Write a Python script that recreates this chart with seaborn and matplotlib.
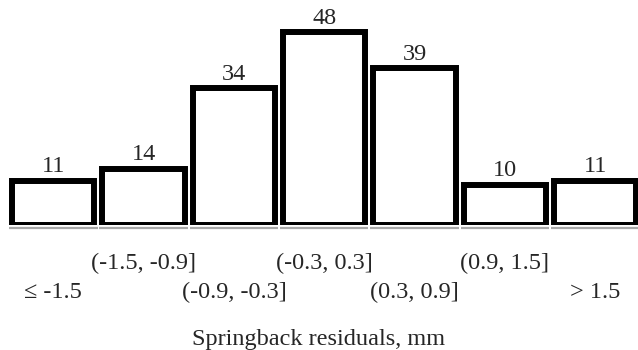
import matplotlib
matplotlib.use("Agg")
import matplotlib.pyplot as plt
import matplotlib.transforms as mtransforms
import seaborn as sns
import pandas as pd

categories = ["≤ -1.5", "(-1.5, -0.9]", "(-0.9, -0.3]", "(-0.3, 0.3]",
              "(0.3, 0.9]", "(0.9, 1.5]", "> 1.5"]
counts = [11, 14, 34, 48, 39, 10, 11]
xlabel = "Springback residuals, mm"

sns.set_theme(style="white")
plt.rcParams['font.family'] = ['Liberation Serif', 'DejaVu Serif']

FS = 17.5

df = pd.DataFrame({"bin": categories, "count": counts})

fig = plt.figure(figsize=(6.38, 3.5), dpi=100)
ax = fig.add_axes([0.0, 0.357, 1.0, 0.643])

sns.barplot(data=df, x="bin", y="count", ax=ax, color="white",
            edgecolor="black", linewidth=4.3, width=0.91, saturation=1)

ax.set_xlim(-0.59, 6.475)
ax.set_ylim(0, 56)

# gray underline below each bar
for p in ax.patches:
    x0 = p.get_x() - 0.035
    x1 = p.get_x() + p.get_width() + 0.035
    ax.plot([x0, x1], [-0.8, -0.8], color="#a8a8a8", lw=1.6,
            clip_on=False, solid_capstyle="butt")

for c in ax.containers:
    ax.bar_label(c, padding=2.5, fontsize=FS)

for s in ax.spines.values():
    s.set_visible(False)
ax.set_yticks([])
ax.set_ylabel("")

ax.set_xticks(range(len(categories)))
ax.set_xticklabels(categories, fontsize=FS)
ax.tick_params(axis="x", length=0, pad=20)

# stagger: even-indexed labels on a lower row
for i, lab in enumerate(ax.get_xticklabels()):
    if i % 2 == 0:
        lab.set_transform(lab.get_transform() +
                          mtransforms.ScaledTranslation(0, -0.29, fig.dpi_scale_trans))

ax.set_xlabel(xlabel, fontsize=FS)
ax.xaxis.set_label_coords(0.5, -0.51)
ax.xaxis.label.set_va("center")

fig.savefig("out.png", dpi=100)
